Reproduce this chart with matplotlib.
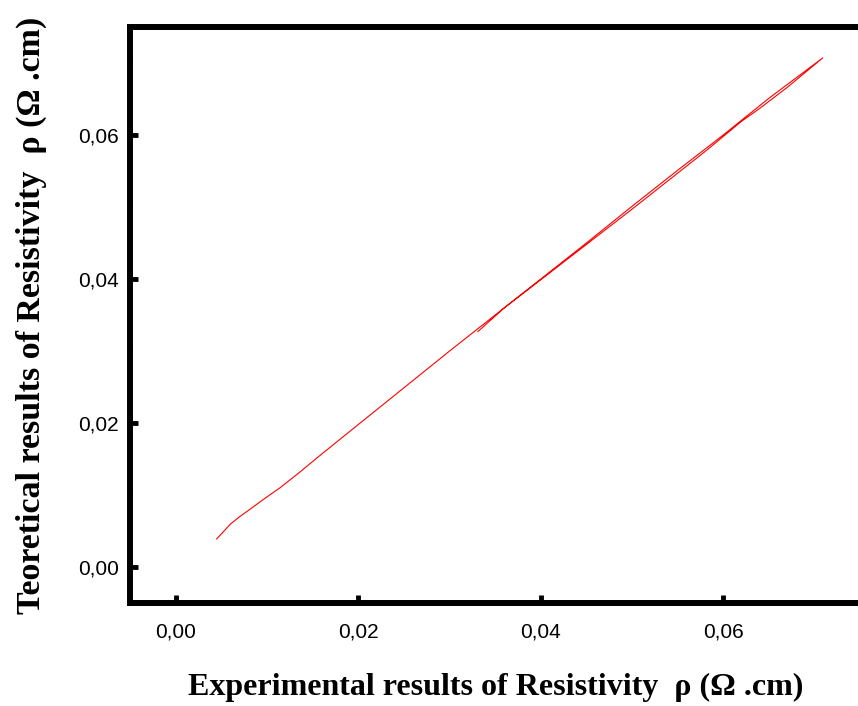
import matplotlib
matplotlib.use("Agg")
import matplotlib.pyplot as plt
from matplotlib.ticker import FixedLocator

# forward path (experimental vs theoretical resistivity)
exp_fwd = [0.00446, 0.0052, 0.0060, 0.0070, 0.0082, 0.0096, 0.0114, 0.0135,
           0.0156, 0.0200, 0.0250, 0.0300, 0.0350, 0.0400, 0.0450, 0.0500,
           0.0550, 0.0600, 0.0650, 0.0709]
theo_fwd = [0.0039, 0.0049, 0.0060, 0.0070, 0.0081, 0.0094, 0.0110, 0.0131,
            0.0153, 0.0198, 0.0249, 0.0300, 0.0350, 0.0400, 0.0450, 0.0501,
            0.0551, 0.0600, 0.0651, 0.0707]
# return path
exp_ret = [0.0709, 0.0670, 0.0640, 0.0620, 0.0580, 0.0540, 0.0500, 0.0450,
           0.0400, 0.0360, 0.0331]
theo_ret = [0.0707, 0.0666, 0.0637, 0.0619, 0.0577, 0.0537, 0.0497, 0.0448,
            0.0399, 0.0360, 0.0327]

major_ticks = [0.00, 0.02, 0.04, 0.06]
tick_labels = ["0,00", "0,02", "0,04", "0,06"]
minor_ticks = [0.01, 0.03, 0.05, 0.07]

fig = plt.figure(figsize=(8.58, 7.06), dpi=100)
ax = fig.add_axes([130/858, 1-603/706, (861-130)/858, (603-27)/706])

ax.plot(exp_fwd + exp_ret[1:], theo_fwd + theo_ret[1:], color="#ff0000", lw=0.8)

ax.set_xlim(-0.00504, 0.0751)
ax.set_ylim(-0.005, 0.075)

ax.xaxis.set_major_locator(FixedLocator(major_ticks))
ax.yaxis.set_major_locator(FixedLocator(major_ticks))
ax.xaxis.set_minor_locator(FixedLocator(minor_ticks))
ax.yaxis.set_minor_locator(FixedLocator(minor_ticks))
ax.set_xticklabels(tick_labels, family="Liberation Sans", fontsize=15)
ax.set_yticklabels(tick_labels, family="Liberation Sans", fontsize=15)

for s in ax.spines.values():
    s.set_linewidth(4.3)
ax.tick_params(which="major", direction="in", length=6, width=3.5)
ax.tick_params(which="minor", direction="in", length=2.5, width=3)
ax.tick_params(axis="x", which="major", pad=14)
ax.tick_params(axis="y", which="major", pad=8)
ax.tick_params(top=False, right=False, which="both")

ax.set_xlabel("Experimental results of Resistivity  \u03c1 (\u03a9 .cm)",
              family="Liberation Serif", fontweight="bold", fontsize=23, labelpad=23)
ax.set_ylabel("Teoretical results of Resistivity  \u03c1 (\u03a9 .cm)",
              family="Liberation Serif", fontweight="bold", fontsize=24.5, labelpad=22)

fig.savefig("out.png", dpi=100)
